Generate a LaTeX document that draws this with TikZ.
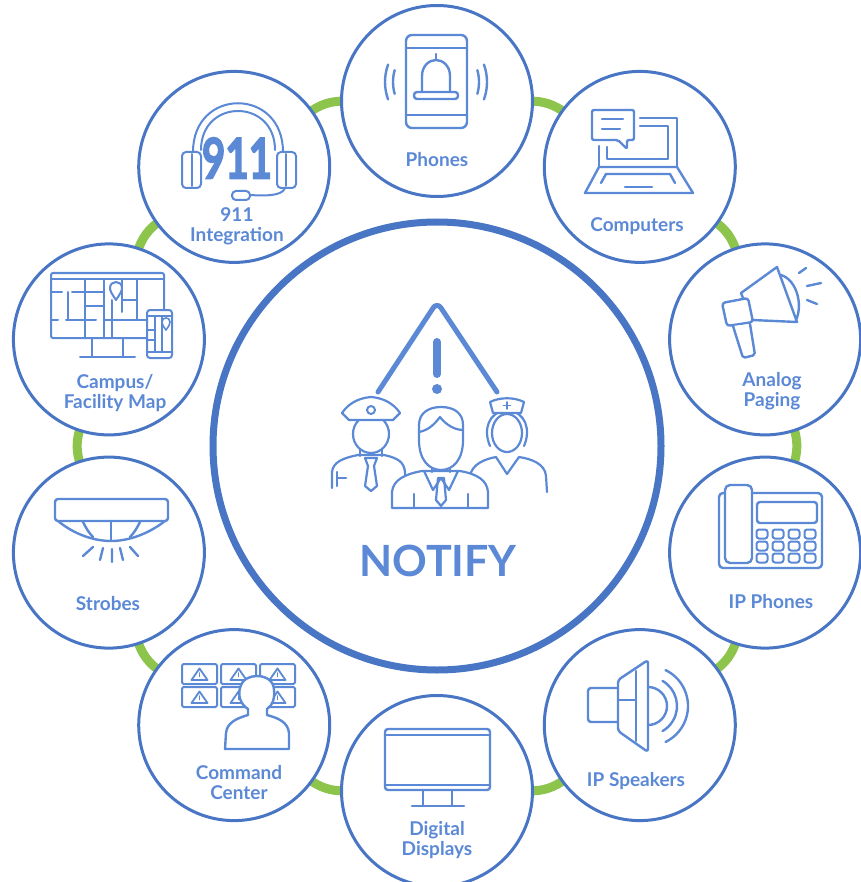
\documentclass[tikz,border=0pt]{standalone}
\usepackage{fontspec}
\setmainfont{Lato}
\newfontfamily\heavyfont{Lato}[BoldFeatures={FakeBold=3}]
\usetikzlibrary{backgrounds}
\definecolor{ringblue}{RGB}{72,117,196}
\definecolor{iconblue}{RGB}{91,137,214}
\definecolor{linkgreen}{RGB}{141,196,76}
\tikzset{
  hub/.style={circle, draw=ringblue, line width=7pt, fill=white, minimum size=448pt, inner sep=0pt},
  sat/.style={circle, draw=ringblue, line width=3pt, fill=white, minimum size=191pt, inner sep=0pt},
  link/.style={draw=linkgreen, line width=9pt, shorten <=-6pt, shorten >=-6pt, looseness=0.87},
  icon/.style={draw=iconblue, line width=2.4pt, line cap=round, line join=round},
  lbl/.style={font=\fontsize{19}{20}\selectfont\bfseries, text=iconblue, align=center, inner sep=0pt},
  heavy/.style={font=\fontsize{56}{56}\selectfont\heavyfont\bfseries, text=iconblue, inner sep=0pt, xscale=0.72},
}
\begin{document}
\begin{tikzpicture}[x=1pt,y=-1pt]
\useasboundingbox (0,0) rectangle (860,882);

% hub and satellites
\node[hub] (hub) at (437,446) {};
\node[sat] (phones)   at (437,101) {};
\node[sat] (comp)     at (639.8,166.9) {};
\node[sat] (paging)   at (765.1,339.4) {};
\node[sat] (ipphones) at (765.1,552.6) {};
\node[sat] (speakers) at (639.8,725.1) {};
\node[sat] (displays) at (437,791) {};
\node[sat] (command)  at (234.2,725.1) {};
\node[sat] (strobes)  at (108.9,552.6) {};
\node[sat] (campus)   at (108.9,339.4) {};
\node[sat] (nine)     at (234.2,166.9) {};

% green ring links
\begin{scope}[on background layer]
\fill[white] (0,0) rectangle (860,882);
\draw[link] (phones) to[bend left=18] (comp);
\draw[link] (comp) to[bend left=18] (paging);
\draw[link] (paging) to[bend left=18] (ipphones);
\draw[link] (ipphones) to[bend left=18] (speakers);
\draw[link] (speakers) to[bend left=18] (displays);
\draw[link] (displays) to[bend left=18] (command);
\draw[link] (command) to[bend left=18] (strobes);
\draw[link] (strobes) to[bend left=18] (campus);
\draw[link] (campus) to[bend left=18] (nine);
\draw[link] (nine) to[bend left=18] (phones);
\end{scope}

% labels
\node[lbl] (tPhones) at (437,160) {Phones};
\node[lbl] (tComp) at (637,226) {Computers};
\node[lbl] (tPaging) at (772,391) {Analog\\Paging};
\node[lbl] (tIpPhones) at (771,602) {IP Phones};
\node[lbl] (tSpeakers) at (636,781) {IP Speakers};
\node[lbl] (tDisplays) at (437,840) {Digital\\Displays};
\node[lbl] (tCommand) at (239,783) {Command\\Center};
\node[lbl] (tStrobes) at (108,604) {Strobes};
\node[lbl] (tCampus) at (115,393) {Campus/\\Facility Map};
\node[lbl] (tNine) at (237,226) {911\\Integration};
\node[font=\fontsize{43}{46}\selectfont\bfseries, text=iconblue, inner sep=0pt] (tNotify) at (438,561) {NOTIFY};

% phone with bell
\draw[icon, rounded corners=6pt] (406,35) rectangle (467,128);
\draw[icon] (406,48) -- (467,48) (406,115) -- (467,115);
\draw[icon] (436,54) -- (436,60);
\draw[icon] (422,92) -- (422,76) .. controls (422,66) and (429,60) .. (436,60) .. controls (443,60) and (450,66) .. (450,76) -- (450,92);
\draw[icon, rounded corners=3pt] (414,92) rectangle (458,99);
\draw[icon] (436,82) ++(160:51) arc[start angle=160, end angle=200, radius=51];
\draw[icon] (436,82) ++(164:43) arc[start angle=164, end angle=196, radius=43];
\draw[icon] (436,82) ++(-20:51) arc[start angle=-20, end angle=20, radius=51];
\draw[icon] (436,82) ++(-16:43) arc[start angle=-16, end angle=16, radius=43];

% laptop with chat bubble
\draw[icon, rounded corners=2pt] (592,110) -- (634,110) -- (634,140) -- (627,140) -- (627,149) -- (618,140) -- (592,140) -- cycle;
\draw[icon] (602,119) -- (623,119) (602,129) -- (620,129);
\draw[icon] (640,118) -- (677,118) -- (677,167);
\draw[icon] (599,146) -- (599,167);
\draw[icon] (607,147) -- (607,159) -- (668,159) -- (668,126) -- (640,126);
\draw[icon] (599,167) -- (585,193) -- (693,193) -- (677,167) -- cycle;
\draw[icon] (601,183) -- (606,174) -- (670,174) -- (675,183);
\draw[icon] (625,187) -- (652,187);

% megaphone
\draw[icon, fill=white] (741,293) -- (777,267) -- (797,322) -- (752,320) -- cycle;
\draw[icon] (781,275) .. controls (797,280) and (803,305) .. (796,320);
\draw[icon, fill=white, rounded corners=3pt] (722,303) -- (748,298) -- (753,322) -- (727,326) -- cycle;
\draw[icon, fill=white, rounded corners=2pt] (733,326) -- (743,358) -- (755,355) -- (750,324);
\draw[icon] (799,273) -- (806,268) (807,286) -- (821,283) (807,300) -- (817,304);

% desk phone
\draw[icon, rounded corners=4pt] (719,493) rectangle (822,568);
\draw[icon, fill=white, rounded corners=5pt] (725,485) rectangle (752,563);
\draw[icon, rounded corners=3pt] (757,502) rectangle (817,523);
\foreach \kx in {762,778,794,810}
  \foreach \ky in {534,546,558}
    \draw[icon, line width=2pt, rounded corners=2.5pt] (\kx-5.5,\ky-4.5) rectangle (\kx+5.5,\ky+4.5);

% loudspeaker
\draw[icon, rounded corners=3pt] (588,688) rectangle (620,722);
\draw[icon, fill=white, rounded corners=3pt] (618,680) -- (648,660) -- (648,752) -- (618,731) -- cycle;
\draw[icon] (636,671) -- (636,741) (619,700) -- (636,700);
\draw[icon] (648,687) arc[start angle=-90, end angle=90, radius=19];
\draw[icon] (648,706) ++(-60:29) arc[start angle=-60, end angle=60, radius=29];
\draw[icon] (648,706) ++(-64:40) arc[start angle=-64, end angle=64, radius=40];

% monitor
\draw[icon, rounded corners=3pt] (385,729) rectangle (490,790);
\draw[icon] (385,735) -- (490,735) (385,785) -- (490,785);
\draw[icon] (423,790) -- (423,806) (452,790) -- (452,806) (412,806) -- (464,806);

% command center: screen wall and operator
\foreach \sx/\sy in {182/664,221/664,260/664,182/687,221/687,260/687} {
  \draw[icon, line width=2pt, rounded corners=1.5pt] (\sx,\sy) rectangle (\sx+35,\sy+20);
  \draw[icon, line width=1.8pt] (\sx+9.5,\sy+16) -- (\sx+17.5,\sy+4.5) -- (\sx+25.5,\sy+16) -- cycle;
  \draw[icon, line width=1.6pt] (\sx+17.5,\sy+9) -- (\sx+17.5,\sy+12.5);
}
\draw[icon, fill=white] (225,749) -- (226,733) .. controls (227,722) and (238,718) .. (248,715) -- (248,709)
  .. controls (240,704) and (238,695) .. (240,688) .. controls (242,679) and (250,676) .. (257,676)
  .. controls (266,676) and (274,681) .. (274,690) .. controls (275,698) and (273,705) .. (267,709)
  -- (267,715) .. controls (278,718) and (288,722) .. (289,733) -- (289,749) -- cycle;

% strobe
\draw[icon, rounded corners=3pt] (55,499) rectangle (168,521);
\draw[icon] (58,521) .. controls (75,535) and (95,541) .. (111,541) .. controls (127,541) and (147,535) .. (165,521);
\draw[icon] (111,521) -- (111,541);
\draw[icon] (83,522) .. controls (86,528) and (89,533) .. (93,537);
\draw[icon] (140,522) .. controls (137,528) and (134,533) .. (130,537);
\draw[icon] (83,556) -- (93,547) (100,560) -- (103,548) (112,562) -- (112,549) (123,560) -- (120,548) (138,556) -- (130,547);

% campus map on monitor and handset
\draw[icon, line width=2pt, rounded corners=2pt] (51,273) rectangle (164,338);
\draw[icon, line width=2pt] (51,279) -- (164,279);
\draw[icon, line width=2pt] (51,292) -- (62,292) (72,292) -- (104,292)
  (51,320) -- (58,320) (66,320) -- (96,320) (104,320) -- (146,320)
  (68,292) -- (68,320) (85,279) -- (85,338) (104,279) -- (104,338)
  (112,300) -- (112,338) (122,279) -- (122,312) (137,279) -- (137,320)
  (122,300) -- (137,300) (85,306) -- (104,306);
\draw[icon, line width=2pt, fill=white] (116,300) .. controls (112,294) and (110,291) .. (110,288) .. controls (110,284) and (113,282) .. (116,282) .. controls (119,282) and (122,284) .. (122,288) .. controls (122,291) and (120,294) .. (116,300) -- cycle;
\draw[icon, line width=2pt] (92,338) -- (92,356) (123,338) -- (123,356) (80,357) -- (135,357);
\draw[icon, line width=2pt, fill=white, rounded corners=3pt] (147,310) rectangle (172,358);
\draw[icon, line width=1.6pt] (147,316) -- (172,316) (147,352) -- (172,352) (155,316) -- (155,352) (162,316) -- (162,352) (147,330) -- (155,330) (147,340) -- (155,340);
\draw[icon, line width=1.6pt, fill=white] (166,330) .. controls (163,326) and (162,324) .. (162,322) .. controls (162,319) and (164,318) .. (166,318) .. controls (168,318) and (170,319) .. (170,322) .. controls (170,324) and (169,326) .. (166,330) -- cycle;

% headset with 911
\draw[icon, line width=2pt] (193,152) .. controls (193,87) and (283,87) .. (283,152);
\draw[icon, line width=2pt] (201,150) .. controls (201,98) and (275,98) .. (275,150);
\draw[icon, line width=2pt, rounded corners=4pt] (182,152) rectangle (201,188);
\draw[icon, line width=2pt] (192,154) -- (192,186);
\draw[icon, line width=2pt, rounded corners=4pt] (277,152) rectangle (296,188);
\draw[icon, line width=2pt] (286,154) -- (286,186);
\draw[icon, line width=2pt] (285,188) .. controls (282,196) and (266,196) .. (250,195);
\draw[icon, line width=2pt, rounded corners=4pt] (232,191) rectangle (250,200);
\node[heavy] (bigNine) at (237,158) {911};

% warning triangle and responders
\draw[icon, line width=5pt, rounded corners=7pt] (378,392) -- (437,302) -- (497,392);
\draw[icon, line width=8pt] (437,342) -- (437,374);
\fill[iconblue] (437,389) circle[radius=5];

% officer
\draw[icon, line width=2.2pt] (332,488) -- (332,472) .. controls (333,462) and (343,458) .. (358,455) -- (384,455) .. controls (398,458) and (404,462) .. (405,472) -- (406,488);
\draw[icon, line width=2.2pt] (360,446) -- (360,456) (382,446) -- (382,456);
\draw[icon, line width=2.2pt] (365,458) -- (377,458) -- (374,466) -- (377,486) -- (371,491) -- (365,486) -- (368,466) -- cycle;
\draw[icon, line width=2.2pt] (337,472) -- (337,486) (337,478) -- (346,478);
\draw[icon, line width=2.2pt, fill=white] (371,434) ellipse[x radius=18, y radius=19];
\draw[icon, line width=2.2pt, fill=white] (349,420) -- (342,413) .. controls (348,404) and (358,398) .. (371,397) .. controls (384,398) and (394,404) .. (400,413) -- (393,420) -- cycle;
\draw[icon, line width=2pt] (371,410) circle[radius=4];

% nurse
\draw[icon, line width=2.2pt] (469,492) -- (470,476) .. controls (472,464) and (485,459) .. (496,457) -- (507,474) -- (519,457) .. controls (532,459) and (545,464) .. (546,476) -- (547,492);
\draw[icon, line width=2.2pt, fill=white] (490,446) .. controls (483,430) and (488,412) .. (507,410) .. controls (526,412) and (531,430) .. (524,446);
\draw[icon, line width=2.2pt, fill=white] (507,433) ellipse[x radius=15, y radius=19];
\draw[icon, line width=2.2pt, fill=white] (493,413) -- (490,402) .. controls (500,397) and (514,397) .. (524,402) -- (521,413) -- cycle;
\draw[icon, line width=1.8pt] (507,402) -- (507,409) (503.5,405.5) -- (510.5,405.5);

% central figure
\draw[icon, line width=2.2pt, fill=white] (392,508) -- (392,492) .. controls (393,480) and (405,474) .. (422,471) -- (460,471) .. controls (477,474) and (487,480) .. (488,492) -- (488,508) -- cycle;
\draw[icon, line width=2.2pt] (424,471) -- (433,490) -- (441,478) -- (449,490) -- (458,471);
\draw[icon, line width=2.2pt] (438,478) -- (444,478) -- (446,500) -- (441,506) -- (436,500) -- cycle;
\draw[icon, line width=2.2pt] (414,508) -- (414,494) (468,508) -- (468,494);
\draw[icon, line width=2.2pt] (432,462) -- (432,472) (450,462) -- (450,472);
\draw[icon, line width=2.2pt, fill=white] (419,440) -- (419,425) .. controls (419,412) and (430,407) .. (441,407) .. controls (454,407) and (463,413) .. (463,425) -- (463,440) .. controls (463,460) and (453,470) .. (441,470) .. controls (429,470) and (419,460) .. (419,440) -- cycle;
\draw[icon, line width=2.2pt] (419,432) .. controls (430,430) and (436,422) .. (440,417) .. controls (446,425) and (455,430) .. (463,430);
\end{tikzpicture}
\end{document}
